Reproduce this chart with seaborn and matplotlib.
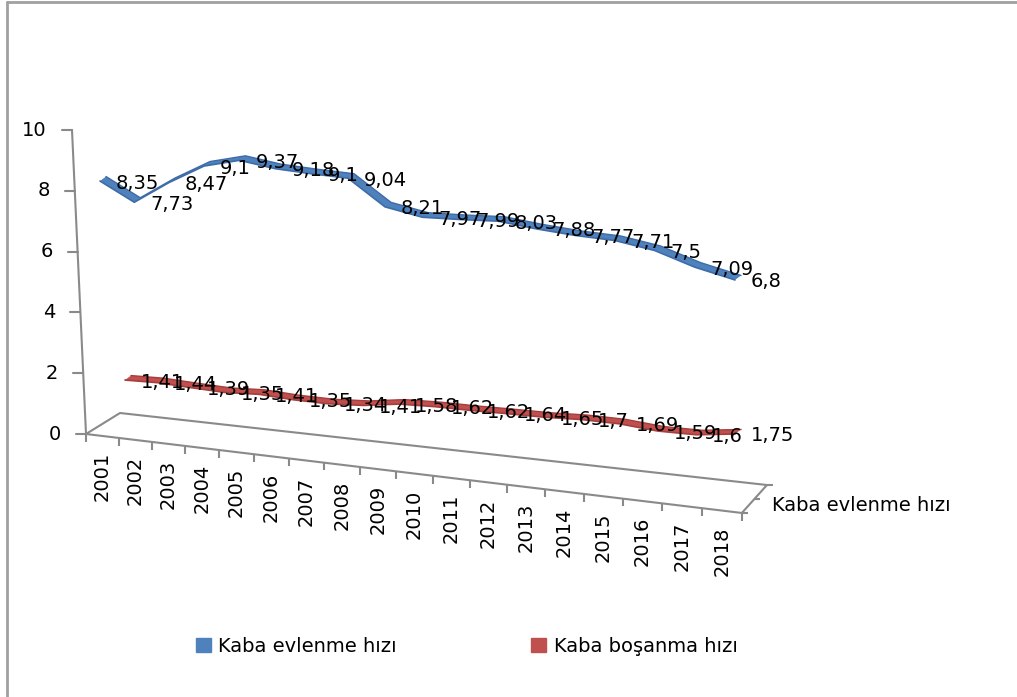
import numpy as np
import matplotlib
matplotlib.use("Agg")
import matplotlib.pyplot as plt
from matplotlib.transforms import Transform, Affine2D
from matplotlib.patches import Patch
import seaborn as sns

# data
years = ["2001", "2002", "2003", "2004", "2005", "2006", "2007", "2008", "2009",
         "2010", "2011", "2012", "2013", "2014", "2015", "2016", "2017", "2018"]
evlenme = [8.35, 7.73, 8.47, 9.1, 9.37, 9.18, 9.1, 9.04, 8.21,
           7.97, 7.99, 8.03, 7.88, 7.77, 7.71, 7.5, 7.09, 6.8]
bosanma = [1.41, 1.44, 1.39, 1.35, 1.41, 1.35, 1.34, 1.41, 1.58,
           1.62, 1.62, 1.64, 1.65, 1.7, 1.69, 1.59, 1.6, 1.75]
series_names = ["Kaba evlenme hızı", "Kaba boşanma hızı"]
y_ticks = [0, 2, 4, 6, 8, 10]

BLUE = "#4F81BD"
RED = "#C0504D"
GRID = "#8a8a8a"


class PlaneTransform(Transform):
    """(category index, value) -> canvas pixels on one depth plane of the fake 3D box"""
    input_dims = 2
    output_dims = 2

    def __init__(self, x0, a, c, base0, slope, s0, s1, span):
        super().__init__()
        self.p = (x0, a, c, base0, slope, s0, s1, span)

    def transform_non_affine(self, values):
        x0, a, c, base0, slope, s0, s1, span = self.p
        values = np.asarray(values, dtype=float).reshape(-1, 2)
        i, v = values[:, 0], values[:, 1]
        x = x0 + a * i + c * i ** 2
        dx = x - x0
        y = base0 + slope * dx - v * (s0 + s1 * dx / span)
        return np.column_stack([x, y])


class FloorTransform(Transform):
    """(category boundary, depth 0..1) -> canvas pixels on the floor"""
    input_dims = 2
    output_dims = 2

    def transform_non_affine(self, values):
        values = np.asarray(values, dtype=float).reshape(-1, 2)
        b, z = values[:, 0], values[:, 1]
        xf = 86 + 32.44 * b + 0.222 * b ** 2
        xb = 120 + 32.0 * b + 0.219 * b ** 2
        yf = 434 + 0.1204 * (xf - 86)
        yb = 413 + 0.1113 * (xb - 120)
        return np.column_stack([xf + z * (xb - xf), yf + z * (yb - yf)])


sns.set_style("white")
plt.rcParams["font.family"] = ["DejaVu Sans"]
plt.rcParams["font.size"] = 14
plt.rcParams["text.color"] = "black"

fig = plt.figure(figsize=(10.17, 6.97), dpi=100)
ax = fig.add_axes([0, 0, 1, 1])

planes = [
    PlaneTransform(100, 34.09, 0.192, 430.7, 0.116, 29.9, 3.1, 635),
    PlaneTransform(125, 32.75, 0.1845, 420.1, 0.116, 28.4, 4.1, 610),
]
floor = FloorTransform()
yaxis = Affine2D.from_values(1, 0, -1.4, -30.4, 86, 434)

# floor box, category ticks and depth ticks
ax.plot([0, 18, 18, 0, 0], [0, 0, 1, 1, 0], color=GRID, lw=1.5,
        transform=floor + ax.transData, zorder=1)
bounds = np.arange(19)
ax.plot(bounds, np.zeros(19), ls="none", marker="|", ms=5.5, mew=1.5, color=GRID,
        transform=floor + Affine2D().translate(0, 3.8) + ax.transData)
ax.plot([18, 18, 18], [0, 0.5, 1], ls="none", marker="_", ms=4.5, mew=1.5, color=GRID,
        transform=floor + Affine2D().translate(3, 0) + ax.transData)

for i, yr in enumerate(years):
    ax.text(i + 0.5, 0, yr, rotation=90, ha="center", va="top",
            transform=floor + Affine2D().translate(0, 16) + ax.transData)
ax.text(18, 0.25, series_names[0], ha="left", va="center",
        transform=floor + Affine2D().translate(24, 0) + ax.transData)

# value axis
ax.plot([0, 0], [0, 10], color=GRID, lw=1.5, transform=yaxis + ax.transData)
for v in y_ticks:
    ax.plot([-10, 0], [v, v], color=GRID, lw=1.5, transform=yaxis + ax.transData)
    ax.text(-25, v, str(v), ha="right", va="center",
            transform=yaxis + ax.transData)

# ribbons
idx = np.arange(len(years))
depth = (6, -4.5)
for vals, plane, col, edge in [(bosanma, planes[1], RED, "#A53E3C"),
                               (evlenme, planes[0], BLUE, "#3D6CA8")]:
    front = plane.transform(np.column_stack([idx, vals]))
    back = front + np.array(depth)
    poly = np.vstack([front, back[::-1]])
    ax.fill(poly[:, 0], poly[:, 1], color=col, lw=0, zorder=2)
    sns.lineplot(x=idx, y=vals, ax=ax, color=edge, lw=1.2, zorder=3)
    ax.lines[-1].set_transform(plane + ax.transData)
    sns.lineplot(x=idx, y=vals, ax=ax, color=edge, lw=1.0, zorder=3)
    ax.lines[-1].set_transform(plane + Affine2D().translate(*depth) + ax.transData)
    for i, v in enumerate(vals):
        ax.annotate(f"{v:g}".replace(".", ","), xy=(i, v),
                    xycoords=plane + ax.transData, xytext=(16, -2),
                    textcoords="offset pixels", ha="left", va="center", zorder=4)

# chart border (left and top edges visible in the crop)
ax.plot([7, 7], [2, 697], color="#a0a0a0", lw=2)
ax.plot([7, 1017], [2, 2], color="#a0a0a0", lw=2)

handles = [Patch(color=BLUE), Patch(color=RED)]
ax.legend(handles, series_names, loc="center left", bbox_to_anchor=(196, 646),
          bbox_transform=ax.transData, ncol=2, frameon=False,
          handlelength=0.75, handleheight=0.75, handletextpad=0.4,
          columnspacing=6.9, borderpad=0, borderaxespad=0, fontsize=14)

ax.set_xlim(0, 1017)
ax.set_ylim(697, 0)
ax.axis("off")

fig.savefig("out.png", dpi=100)
